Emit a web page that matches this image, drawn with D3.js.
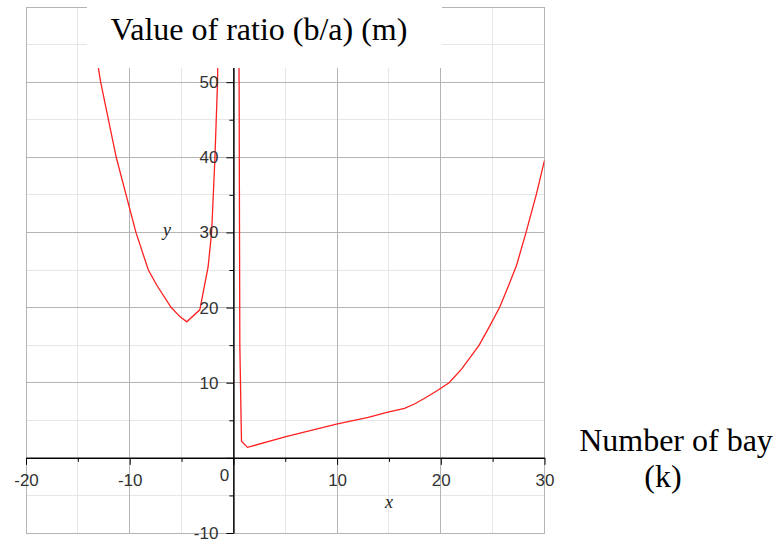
<!DOCTYPE html>
<html>
<head>
<script src="https://cdnjs.cloudflare.com/ajax/libs/d3/7.8.5/d3.min.js"></script>
<style>
  body { margin: 0; background: #fff; }
  .tick text { font-family: "Liberation Sans", Arial, sans-serif; font-size: 17px; fill: #333; }
</style>
</head>
<body>
<svg id="chart" width="782" height="542"></svg>
<script>
// left branch (x < 0)
const leftX = [-13.5, -12.8, -11.3, -9.4, -8.2, -7.4, -6.0, -5.16, -4.5, -3.24, -2.44, -2.1, -1.79, -1.53, -1.45]
const leftY = [56, 50, 40, 30, 25, 23.0, 20, 18.8, 18.1, 19.7, 25.4, 30, 39.6, 50, 58]
// right branch (x > 0)
const rightX = [0.5, 0.55, 0.62, 0.78, 1.36, 5.07, 9.93, 13.0, 14.9, 16.5, 17.5, 18.4, 19.6, 20.8, 22.0, 22.8, 23.7, 24.7, 25.7, 26.5, 27.3, 28.2, 29.2, 30]
const rightY = [58, 50, 15, 2.2, 1.4, 2.83, 4.48, 5.4, 6.07, 6.6, 7.2, 7.9, 8.9, 10.0, 11.8, 13.3, 15.0, 17.5, 20.1, 22.8, 25.6, 29.9, 35, 39.6]

const xMajor = [-20, -10, 0, 10, 20, 30]
const xMinor = [-15, -5, 5, 15, 25]
const yMajor = [-10, 0, 10, 20, 30, 40, 50, 60]
const yMinor = [-5, 5, 15, 25, 35, 45, 55]
const xLabelled = [-20, -10, 10, 20, 30]
const yLabelled = [-10, 10, 20, 30, 40, 50]

const svg = d3.select('#chart')
const x = d3.scaleLinear().domain([-20, 30]).range([26, 544.5])
const y = d3.scaleLinear().domain([-10, 60]).range([533, 7])

const fmt = d => String(d)

// grid
const grid = svg.append('g').attr('shape-rendering', 'crispEdges')
grid.selectAll('.vmin').data(xMinor).enter().append('line')
  .attr('x1', d => x(d)).attr('x2', d => x(d)).attr('y1', y(60)).attr('y2', y(-10))
  .attr('stroke', '#e6e6e6')
grid.selectAll('.hmin').data(yMinor).enter().append('line')
  .attr('y1', d => y(d)).attr('y2', d => y(d)).attr('x1', x(-20)).attr('x2', x(30))
  .attr('stroke', '#e6e6e6')
grid.selectAll('.vmaj').data(xMajor).enter().append('line')
  .attr('x1', d => x(d)).attr('x2', d => x(d)).attr('y1', y(60)).attr('y2', y(-10))
  .attr('stroke', '#b4b4b4')
grid.selectAll('.hmaj').data(yMajor).enter().append('line')
  .attr('y1', d => y(d)).attr('y2', d => y(d)).attr('x1', x(-20)).attr('x2', x(30))
  .attr('stroke', '#b4b4b4')

// curve
svg.append('clipPath').attr('id', 'plotclip').append('rect')
  .attr('x', x(-20)).attr('y', y(60)).attr('width', x(30) - x(-20)).attr('height', y(-10) - y(60))

const line = d3.line().x(d => x(d[0])).y(d => y(d[1]))
const curves = svg.append('g').attr('clip-path', 'url(#plotclip)')
curves.append('path').datum(d3.zip(leftX, leftY)).attr('d', line)
  .attr('fill', 'none').attr('stroke', '#ff2020').attr('stroke-width', 1.3)
curves.append('path').datum(d3.zip(rightX, rightY)).attr('d', line)
  .attr('fill', 'none').attr('stroke', '#ff2020').attr('stroke-width', 1.3)

// axes
const xAxisG = svg.append('g').attr('transform', `translate(0,${y(0)})`)
xAxisG.append('g').call(d3.axisBottom(x).tickValues(xMinor).tickSize(4).tickSizeOuter(0).tickFormat(''))
xAxisG.append('g').call(d3.axisBottom(x).tickValues(xMajor).tickSize(7).tickSizeOuter(0)
  .tickPadding(9).tickFormat(d => xLabelled.includes(d) ? fmt(d) : ''))

const yAxisG = svg.append('g').attr('transform', `translate(${x(0)},0)`)
yAxisG.append('g').call(d3.axisLeft(y).tickValues(yMinor).tickSize(4).tickSizeOuter(0).tickFormat(''))
yAxisG.append('g').call(d3.axisLeft(y).tickValues(yMajor).tickSize(7).tickSizeOuter(0)
  .tickPadding(8).tickFormat(d => yLabelled.includes(d) ? fmt(d) : ''))

svg.selectAll('.domain, .tick line').attr('stroke', '#000')

// origin label
svg.append('text').attr('x', x(0) - 9).attr('y', y(0) + 23).attr('text-anchor', 'middle')
  .style('font-family', '"Liberation Sans", Arial, sans-serif').style('font-size', '17px')
  .attr('fill', '#333').text('0')

// axis letters
svg.append('text').attr('x', x(15)).attr('y', 508).attr('text-anchor', 'middle')
  .style('font-family', '"Liberation Serif", serif').style('font-style', 'italic').style('font-size', '18px')
  .attr('fill', '#222').text('x')
svg.append('text').attr('x', 167).attr('y', y(30) + 4).attr('text-anchor', 'middle')
  .style('font-family', '"Liberation Serif", serif').style('font-style', 'italic').style('font-size', '18px')
  .attr('fill', '#222').text('y')

// title box
svg.append('rect').attr('x', 87).attr('y', 0).attr('width', 355).attr('height', 68).attr('fill', '#fff')
svg.append('text').attr('x', 259).attr('y', 40).attr('text-anchor', 'middle')
  .style('font-family', '"Liberation Serif", "Times New Roman", serif').style('font-size', '32px')
  .attr('fill', '#000').text('Value of ratio (b/a) (m)')

// x label
svg.append('text').attr('x', 676).attr('y', 451).attr('text-anchor', 'middle')
  .style('font-family', '"Liberation Serif", "Times New Roman", serif').style('font-size', '32px')
  .attr('fill', '#000').text('Number of bay')
svg.append('text').attr('x', 663).attr('y', 487).attr('text-anchor', 'middle')
  .style('font-family', '"Liberation Serif", "Times New Roman", serif').style('font-size', '32px')
  .attr('fill', '#000').text('(k)')
</script>
</body>
</html>
